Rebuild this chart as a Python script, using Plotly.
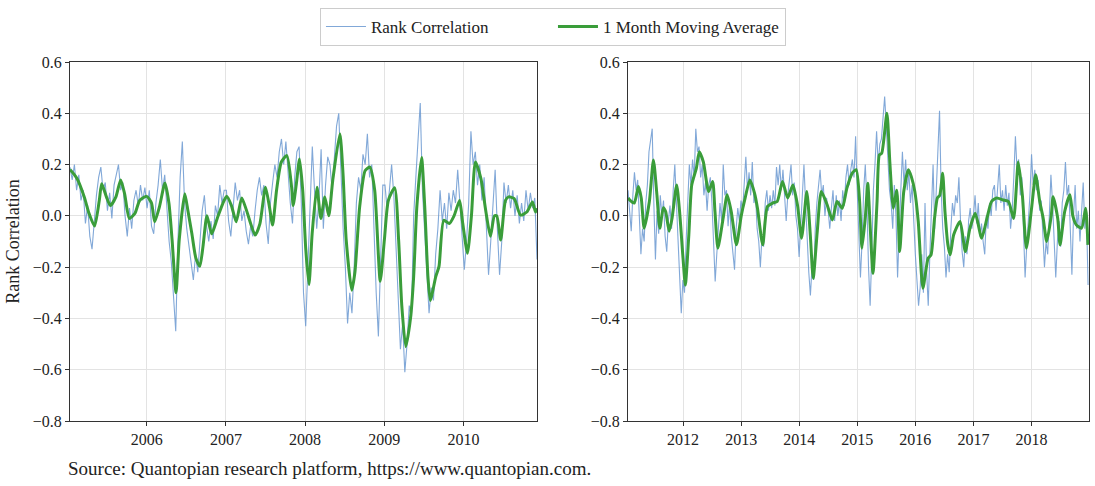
import pandas as pd
import plotly.graph_objects as go

# ---------------- data ----------------
# Left panel: daily rank correlation sampled ~every 10 days, 2005-01-12 .. 2010-12-06
left_raw = [
    # 2005
    0.19, 0.14, 0.20, 0.10, 0.16, 0.06, 0.10, -0.03, 0.04, -0.08, -0.13, -0.02, 0.08, 0.15, 0.19, 0.10, 0.13, 0.02,
    0.09, -0.01, 0.12, 0.16, 0.20, 0.10, 0.13, 0.00, -0.08, 0.03, -0.05, 0.06, 0.10, 0.04, 0.12, 0.06, 0.11,
    # 2006
    0.03, 0.10, -0.04, -0.07, 0.05, 0.12, 0.22, 0.10, 0.16, 0.02, -0.10, -0.18, -0.30, -0.45, -0.10, 0.15, 0.29, 0.05,
    -0.05, -0.12, -0.20, -0.25, -0.15, -0.22, -0.10, 0.02, 0.08, -0.04, -0.10, -0.02, -0.09, 0.04, 0.00, 0.12, 0.05, 0.10,
    # 2007
    0.10, -0.02, -0.08, 0.04, 0.13, 0.06, 0.10, -0.02, 0.02, -0.06, -0.11, -0.04, -0.08, 0.02, 0.10, 0.15, 0.08, 0.12,
    -0.03, -0.11, 0.05, 0.13, 0.20, 0.15, 0.25, 0.30, 0.20, 0.29, 0.15, 0.05, -0.03, 0.15, 0.25, 0.27, 0.05, -0.30,
    # 2008
    -0.43, -0.20, 0.05, 0.27, 0.10, -0.05, 0.07, 0.26, -0.05, 0.12, 0.23, 0.20, 0.10, 0.25, 0.35, 0.40, 0.15, -0.05,
    -0.20, -0.42, -0.30, -0.38, -0.20, 0.05, 0.15, 0.10, 0.24, 0.20, 0.32, 0.15, 0.20, -0.10, -0.30, -0.47, -0.20, 0.12,
    # 2009
    0.12, 0.02, 0.10, 0.20, 0.08, -0.10, -0.29, -0.52, -0.42, -0.61, -0.50, -0.35, -0.40, 0.00, 0.15, 0.30, 0.44, 0.10,
    -0.05, -0.25, -0.38, -0.28, -0.33, -0.15, -0.05, 0.10, -0.02, 0.05, -0.05, 0.09, 0.02, 0.10, 0.05, 0.18, 0.06, -0.08,
    # 2010
    -0.21, -0.10, 0.05, 0.33, 0.20, 0.25, 0.12, 0.20, 0.06, 0.15, -0.05, -0.23, -0.10, 0.05, 0.18, -0.05, -0.23,
    -0.10, 0.13, 0.05, 0.12, 0.03, 0.10, 0.00, 0.08, -0.03, 0.05, -0.02, 0.10, 0.02, 0.09, 0.03, 0.07, -0.17,
]
left_raw_start = "2005-01-12"
left_raw_end = "2010-12-06"

# Left panel: 1 month moving average (decimal year, value)
left_ma_t = [
    2005.03, 2005.04, 2005.12, 2005.21, 2005.27, 2005.34, 2005.40, 2005.43, 2005.49, 2005.54, 2005.61, 2005.67,
    2005.72, 2005.78, 2005.85, 2005.91, 2006.00, 2006.06, 2006.10, 2006.16, 2006.23, 2006.28, 2006.32, 2006.37,
    2006.41, 2006.48, 2006.52, 2006.57, 2006.62, 2006.67, 2006.71, 2006.76, 2006.82, 2006.89, 2006.96, 2007.01,
    2007.07, 2007.13, 2007.20, 2007.26, 2007.37, 2007.43, 2007.50, 2007.55, 2007.59, 2007.64, 2007.70, 2007.77,
    2007.83, 2007.85, 2007.89, 2007.93, 2007.97, 2008.01, 2008.05, 2008.09, 2008.15, 2008.20, 2008.25, 2008.30,
    2008.35, 2008.44, 2008.48, 2008.52, 2008.59, 2008.63, 2008.69, 2008.76, 2008.82, 2008.88, 2008.95, 2009.00,
    2009.05, 2009.13, 2009.18, 2009.22, 2009.27, 2009.33, 2009.37, 2009.41, 2009.47, 2009.51, 2009.55, 2009.58,
    2009.65, 2009.69, 2009.75, 2009.82, 2009.88, 2009.95, 2009.99, 2010.05, 2010.10, 2010.15, 2010.22, 2010.28,
    2010.34, 2010.39, 2010.42, 2010.47, 2010.53, 2010.57, 2010.64, 2010.72, 2010.80, 2010.87, 2010.91, 2010.925,
]
left_ma_v = [
    0.18, 0.177, 0.145, 0.074, 0.01, -0.04, 0.06, 0.125, 0.074, 0.04, 0.074, 0.14,
    0.086, -0.01, 0.01, 0.06, 0.076, 0.05, -0.023, 0.035, 0.128, 0.05, -0.094, -0.30,
    -0.094, 0.086, 0.02, -0.07, -0.165, -0.197, -0.12, 0.0, -0.07, -0.01, 0.048, 0.076,
    0.04, -0.023, 0.07, 0.022, -0.075, -0.03, 0.112, 0.035, -0.036, 0.10, 0.21, 0.235,
    0.112, 0.04, 0.125, 0.222, 0.10, -0.133, -0.268, -0.07, 0.112, -0.01, 0.074, 0.0,
    0.138, 0.32, 0.164, -0.094, -0.29, -0.22, 0.035, 0.177, 0.19, 0.10, -0.255, -0.094,
    0.06, 0.11, -0.094, -0.35, -0.51, -0.40, -0.236, 0.035, 0.228, 0.035, -0.236, -0.33,
    -0.236, -0.197, -0.017, -0.03, 0.0, 0.06, -0.03, -0.146, 0.0, 0.21, 0.145, 0.022,
    -0.08, 0.0, 0.0, -0.094, 0.06, 0.074, 0.067, 0.003, 0.015, 0.054, 0.015, 0.03,
]

# Right panel: daily rank correlation sampled ~every 10 days, 2011-01-20 .. 2018-12-22
right_raw = [
    # 2011
    0.10, 0.02, -0.06, 0.08, 0.17, 0.10, 0.14, 0.00, -0.15, -0.05, -0.10, 0.05, 0.12, 0.25, 0.30, 0.34, 0.05,
    -0.17, 0.02, -0.07, 0.08, 0.00, 0.06, -0.08, -0.14, -0.02, 0.04, -0.05, 0.10, 0.20, 0.05, -0.10, -0.25, -0.38,
    # 2012
    -0.25, -0.30, -0.10, 0.05, 0.20, 0.12, 0.22, 0.15, 0.34, 0.25, 0.27, 0.15, 0.20, 0.08, 0.13, 0.02, 0.12, 0.15,
    0.05, -0.10, -0.256, -0.15, -0.05, 0.05, -0.02, 0.20, 0.08, 0.10, -0.04, 0.05, -0.08, -0.15, -0.21, -0.05, 0.03, -0.02,
    # 2013
    0.06, 0.02, 0.15, 0.23, 0.10, 0.17, 0.08, 0.21, 0.05, 0.08, -0.05, -0.10, -0.20, -0.08, -0.12, 0.05, 0.10, 0.02,
    0.08, 0.03, 0.10, 0.04, 0.19, 0.12, 0.20, 0.10, 0.18, 0.06, -0.02, 0.08, 0.14, 0.20, 0.08, 0.13, 0.00, -0.05,
    # 2014
    -0.16, -0.05, 0.08, 0.20, 0.05, -0.10, -0.22, -0.31, -0.20, -0.25, -0.05, 0.05, 0.12, 0.18, 0.08, 0.12, 0.00, 0.07,
    0.02, -0.05, 0.03, 0.10, -0.02, 0.08, 0.00, 0.06, -0.02, 0.10, 0.04, 0.15, 0.20, 0.12, 0.18, 0.22, 0.15, 0.31,
    # 2015
    0.10, -0.10, -0.24, -0.10, 0.10, 0.20, 0.05, -0.20, -0.35, -0.15, 0.10, 0.20, 0.33, 0.20, 0.28, 0.30, 0.40, 0.465,
    0.35, 0.20, 0.10, 0.05, -0.05, 0.12, 0.00, -0.24, -0.10, 0.10, 0.25, 0.12, 0.22, 0.10, 0.17, 0.05, 0.12, -0.05,
    # 2016
    -0.15, -0.25, -0.35, -0.28, -0.15, -0.30, 0.05, -0.22, -0.35, -0.15, 0.00, 0.20, -0.05, 0.10, 0.20, 0.41, 0.10, -0.05,
    -0.12, -0.24, -0.15, -0.22, -0.05, 0.05, 0.00, 0.08, 0.05, 0.15, -0.02, -0.14, -0.20, -0.08, -0.15, -0.02, 0.03, -0.05,
    # 2017
    0.00, 0.08, -0.03, 0.05, -0.08, -0.03, -0.10, -0.15, 0.00, -0.05, 0.05, 0.00, 0.10, 0.12, 0.02, 0.10, 0.20, 0.05,
    0.10, 0.02, 0.12, 0.04, 0.09, -0.05, 0.02, 0.15, 0.31, 0.18, 0.22, 0.08, 0.15, -0.05, -0.24, -0.12, -0.02, 0.08,
    # 2018
    0.24, 0.12, 0.18, 0.10, 0.14, 0.02, 0.06, -0.08, -0.20, -0.10, -0.15, 0.00, 0.16, 0.05, -0.10, -0.24, -0.10, -0.02,
    -0.12, 0.05, 0.10, 0.21, 0.08, 0.12, -0.05, -0.23, 0.00, 0.12, -0.05, 0.02, -0.10, 0.05, 0.13, -0.05, 0.02, -0.27,
]
right_raw_start = "2011-01-20"
right_raw_end = "2018-12-22"

right_ma_t = [
    2011.055, 2011.08, 2011.16, 2011.23, 2011.28, 2011.33, 2011.42, 2011.49, 2011.55, 2011.60, 2011.66, 2011.70,
    2011.76, 2011.81, 2011.89, 2011.94, 2012.00, 2012.04, 2012.10, 2012.15, 2012.23, 2012.28, 2012.35, 2012.44,
    2012.51, 2012.55, 2012.60, 2012.69, 2012.76, 2012.83, 2012.92, 2013.00, 2013.06, 2013.15, 2013.23, 2013.28,
    2013.37, 2013.45, 2013.54, 2013.62, 2013.71, 2013.80, 2013.89, 2013.97, 2014.04, 2014.13, 2014.19, 2014.24,
    2014.31, 2014.38, 2014.48, 2014.57, 2014.65, 2014.74, 2014.82, 2014.91, 2014.98, 2015.04, 2015.08, 2015.14,
    2015.18, 2015.22, 2015.27, 2015.34, 2015.38, 2015.42, 2015.51, 2015.56, 2015.62, 2015.68, 2015.73, 2015.80,
    2015.88, 2015.93, 2015.99, 2016.05, 2016.13, 2016.22, 2016.27, 2016.33, 2016.38, 2016.42, 2016.47, 2016.51,
    2016.56, 2016.60, 2016.66, 2016.77, 2016.86, 2016.94, 2017.03, 2017.14, 2017.23, 2017.31, 2017.40, 2017.51,
    2017.60, 2017.69, 2017.77, 2017.84, 2017.91, 2018.00, 2018.07, 2018.14, 2018.20, 2018.26, 2018.34, 2018.37,
    2018.45, 2018.49, 2018.57, 2018.66, 2018.71, 2018.77, 2018.86, 2018.93, 2018.97,
]
right_ma_v = [
    0.07, 0.062, 0.05, 0.114, 0.07, -0.048, 0.056, 0.218, 0.082, -0.048, 0.032, 0.017,
    -0.06, -0.01, 0.12, 0.017, -0.165, -0.27, -0.074, 0.12, 0.186, 0.25, 0.21, 0.095,
    0.134, 0.017, -0.126, -0.01, 0.082, 0.017, -0.113, 0.0, 0.062, 0.14, 0.088, 0.03,
    -0.113, 0.036, 0.05, 0.056, 0.134, 0.07, 0.12, 0.04, -0.087, 0.095, -0.074, -0.243,
    -0.06, 0.095, 0.043, -0.016, 0.056, 0.03, 0.108, 0.166, 0.18, 0.056, -0.126, 0.0,
    0.127, -0.035, -0.224, 0.056, 0.238, 0.244, 0.40, 0.21, 0.03, 0.10, -0.139, 0.095,
    0.18, 0.153, 0.095, -0.022, -0.282, -0.165, -0.152, -0.01, 0.07, 0.08, 0.166, 0.017,
    -0.113, -0.152, -0.074, -0.022, -0.139, -0.048, 0.01, -0.087, -0.01, 0.056, 0.07, 0.062,
    0.056, -0.01, 0.21, 0.082, -0.126, 0.03, 0.16, 0.056, -0.01, -0.10, 0.004, 0.075,
    -0.01, -0.113, 0.017, 0.082, 0.0, -0.035, -0.048, 0.03, -0.113,
]

left_years = [2006, 2007, 2008, 2009, 2010]
right_years = [2012, 2013, 2014, 2015, 2016, 2017, 2018]
y_ticks = [0.6, 0.4, 0.2, 0.0, -0.2, -0.4, -0.6, -0.8]

series_names = ["Rank Correlation", "1 Month Moving Average"]
y_title = "Rank Correlation"
source_text = "Source: Quantopian research platform, https://www.quantopian.com."


# ---------------- helpers ----------------
def dec2date(y):
    yr = int(y)
    return pd.Timestamp(yr, 1, 1) + pd.Timedelta(days=(y - yr) * 365.25)


RAW_COLOR = "rgba(98,146,206,0.8)"
MA_COLOR = "#3a9d3a"
FONT = "Liberation Serif"
GRID = "#e3e3e3"
FRAME = "#333333"
TXT = "#222222"

fig = go.Figure()

panels = [
    (left_raw, left_raw_start, left_raw_end, left_ma_t, left_ma_v, "x", "y", True),
    (right_raw, right_raw_start, right_raw_end, right_ma_t, right_ma_v, "x2", "y2", False),
]
for raw, rs, re_, mt, mv, xa, ya, show in panels:
    dates = pd.date_range(rs, re_, periods=len(raw))
    fig.add_trace(go.Scatter(
        x=dates, y=raw, mode="lines", name=series_names[0], xaxis=xa, yaxis=ya,
        line=dict(color=RAW_COLOR, width=1.1), showlegend=show, legendrank=1,
    ))
for raw, rs, re_, mt, mv, xa, ya, show in panels:
    fig.add_trace(go.Scatter(
        x=[dec2date(t) for t in mt], y=mv, mode="lines", name=series_names[1], xaxis=xa, yaxis=ya,
        line=dict(color=MA_COLOR, width=3, shape="spline", smoothing=0.6), showlegend=show, legendrank=2,
    ))

W, H = 1095, 486
ydom = [1 - 421 / H, 1 - 62 / H]

axis_common = dict(
    showline=True, linecolor=FRAME, linewidth=1, mirror=True,
    showgrid=True, gridcolor=GRID, gridwidth=1,
    ticks="outside", ticklen=4, tickcolor=FRAME, tickwidth=1,
    tickfont=dict(family=FONT, size=16, color=TXT),
    zeroline=False,
)

fig.update_layout(
    width=W, height=H,
    margin=dict(l=0, r=0, t=0, b=0, autoexpand=False),
    paper_bgcolor="white", plot_bgcolor="white",
    font=dict(family=FONT, size=16, color=TXT),
    xaxis=dict(domain=[70 / W, 537 / W], type="date",
               range=[pd.Timestamp(left_raw_start), pd.Timestamp(left_raw_end)],
               tickvals=[pd.Timestamp(y, 1, 1) for y in left_years],
               ticktext=[str(y) for y in left_years], **axis_common),
    yaxis=dict(domain=ydom, range=[-0.8, 0.6], tickvals=y_ticks, tickformat=".1f",
               title=dict(text=y_title, font=dict(family=FONT, size=18, color=TXT), standoff=8),
               **axis_common),
    xaxis2=dict(domain=[628 / W, 1089 / W], type="date", anchor="y2",
                range=[pd.Timestamp(right_raw_start), pd.Timestamp("2018-12-28")],
                tickvals=[pd.Timestamp(y, 1, 1) for y in right_years],
                ticktext=[str(y) for y in right_years], **axis_common),
    yaxis2=dict(domain=ydom, range=[-0.8, 0.6], tickvals=y_ticks, tickformat=".1f", anchor="x2",
                **axis_common),
    legend=dict(orientation="h", x=0.505, xanchor="center", y=1 - 8 / H, yanchor="top",
                bordercolor="#cccccc", borderwidth=1, bgcolor="white",
                font=dict(family=FONT, size=17, color=TXT), itemwidth=40,
                entrywidth=177, tracegroupgap=0),
    annotations=[dict(text=source_text, xref="paper", yref="paper", x=66 / W, y=1 - 468 / H,
                      xanchor="left", yanchor="middle", showarrow=False,
                      font=dict(family=FONT, size=19, color=TXT))],
)

fig.write_html("out.html", config={"displayModeBar": False},
               post_script="document.body.style.margin='0px';")
